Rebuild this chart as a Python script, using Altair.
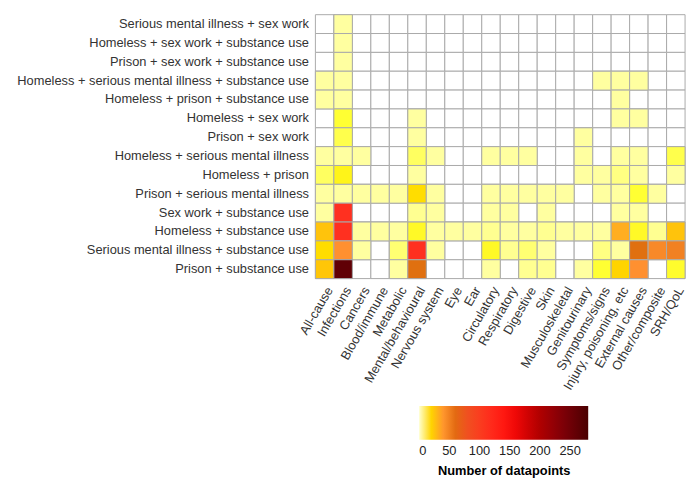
import altair as alt
import pandas as pd

groups = [
    "Serious mental illness + sex work",
    "Homeless + sex work + substance use",
    "Prison + sex work + substance use",
    "Homeless + serious mental illness + substance use",
    "Homeless + prison + substance use ",
    "Homeless + sex work",
    "Prison + sex work",
    "Homeless + serious mental illness",
    "Homeless + prison",
    "Prison + serious mental illness",
    "Sex work + substance use",
    "Homeless + substance use",
    "Serious mental illness + substance use",
    "Prison + substance use",
]

outcomes = [
    "All-cause", "Infections", "Cancers", "Blood/immune", "Metabolic",
    "Mental/behavioural", "Nervous system", "Eye", "Ear", "Circulatory",
    "Respiratory", "Digestive", "Skin", "Musculoskeletal", "Genitourinary",
    "Symptoms/signs", "Injury, poisoning, etc", "External causes",
    "Other/composite", "SRH/QoL",
]

smi_sexwork = [0, 2, 0, 0, 0, 0, 0, 0, 0, 0, 0, 0, 0, 0, 0, 0, 0, 0, 0, 0]
hl_sexwork_sub = [0, 2, 0, 0, 0, 0, 0, 0, 0, 0, 0, 0, 0, 0, 0, 0, 0, 0, 0, 0]
pr_sexwork_sub = [0, 2, 0, 0, 0, 0, 0, 0, 0, 0, 0, 0, 0, 0, 0, 0, 0, 0, 0, 0]
hl_smi_sub = [2, 2, 0, 0, 0, 0, 0, 0, 0, 0, 0, 0, 0, 0, 0, 2, 2, 2, 0, 0]
hl_pr_sub = [2, 2, 0, 0, 0, 0, 0, 0, 0, 0, 0, 0, 0, 0, 0, 0, 2, 0, 0, 0]
hl_sexwork = [0, 8, 0, 0, 0, 2, 0, 0, 0, 0, 0, 0, 0, 0, 0, 0, 2, 2, 0, 0]
pr_sexwork = [0, 7, 0, 0, 0, 2, 0, 0, 0, 0, 0, 0, 0, 0, 2, 0, 0, 0, 0, 0]
hl_smi = [2, 2, 2, 0, 0, 6, 2, 0, 0, 2, 2, 2, 0, 0, 2, 0, 2, 2, 0, 7]
hl_pr = [6, 12, 0, 0, 0, 2, 0, 0, 0, 0, 0, 0, 0, 0, 2, 2, 4, 2, 0, 2]
pr_smi = [2, 2, 2, 2, 2, 18, 2, 0, 0, 2, 2, 2, 2, 2, 0, 2, 2, 8, 2, 0]
sexwork_sub = [2, 110, 0, 0, 0, 3, 2, 0, 0, 2, 2, 0, 2, 0, 0, 0, 2, 2, 0, 0]
hl_sub = [25, 110, 2, 2, 2, 10, 2, 2, 2, 3, 2, 2, 3, 2, 2, 2, 32, 10, 3, 25]
smi_sub = [18, 42, 2, 0, 5, 110, 2, 0, 0, 10, 3, 5, 2, 0, 0, 4, 2, 55, 45, 48]
pr_sub = [24, 262, 0, 0, 2, 55, 0, 0, 0, 2, 0, 3, 3, 0, 2, 8, 20, 42, 0, 9]

row_values = [
    smi_sexwork, hl_sexwork_sub, pr_sexwork_sub, hl_smi_sub, hl_pr_sub,
    hl_sexwork, pr_sexwork, hl_smi, hl_pr, pr_smi, sexwork_sub, hl_sub,
    smi_sub, pr_sub,
]

color_domain = [0, 2, 8, 14, 22, 32, 42, 55, 80, 110, 150, 200, 280]
color_range = ["#FFFFCC", "#FFFFA0", "#FFFF33", "#FFEE00", "#FFCC00", "#FFAE20",
               "#FF9030", "#E07010", "#F05020", "#FF3020", "#FF0A0A", "#B00000",
               "#4A0000"]
legend_values = [0, 50, 100, 150, 200, 250]

records = []
for g, vals in zip(groups, row_values):
    for o, v in zip(outcomes, vals):
        records.append({"group": g, "outcome": o, "n": v})
df = pd.DataFrame(records)

FONT = "Liberation Sans"

x = alt.X(
    "outcome:N",
    sort=outcomes,
    scale=alt.Scale(domain=outcomes, paddingInner=0, paddingOuter=0),
    axis=alt.Axis(title=None, labelAngle=-60, labelAlign="right",
                  labelBaseline="top", ticks=False, domain=False,
                  labelFontSize=13, labelColor="#333333", labelPadding=6,
                  labelFont=FONT, labelLimit=300),
)
y = alt.Y(
    "group:N",
    sort=groups,
    scale=alt.Scale(domain=groups, paddingInner=0, paddingOuter=0),
    axis=alt.Axis(title=None, ticks=False, domain=False, labelFontSize=13,
                  labelColor="#333333", labelPadding=7, labelLimit=400,
                  labelFont=FONT),
)

base = alt.Chart(df).mark_rect(fill="white", stroke="#aaaaaa", strokeWidth=1).encode(x=x, y=y)

heat = alt.Chart(df).transform_filter("datum.n > 0").mark_rect(
    stroke="#aaaaaa", strokeWidth=1
).encode(
    x=x,
    y=y,
    color=alt.Color(
        "n:Q",
        scale=alt.Scale(domain=color_domain, range=color_range),
        legend=alt.Legend(
            title="Number of datapoints",
            orient="none",
            legendX=105,
            legendY=396,
            direction="horizontal",
            gradientLength=171,
            gradientThickness=34,
            gradientStrokeWidth=0,
            titleOrient="bottom",
            titleAnchor="middle",
            titleFontSize=13,
            titleFontWeight="bold",
            titleColor="black",
            titleFont=FONT,
            titlePadding=8,
            labelFontSize=13,
            labelColor="#222222",
            labelFont=FONT,
            labelOffset=5,
            labelAlign="center",
            values=legend_values,
        ),
    ),
)

chart = (base + heat).properties(
    width=374,
    height=267,
    padding={"left": 311, "top": 4, "right": 6, "bottom": 200},
    autosize=alt.AutoSizeParams(type="none"),
    background="white",
).configure_view(strokeWidth=0)

chart.save("out.html", embed_options={"renderer": "svg", "actions": False})
